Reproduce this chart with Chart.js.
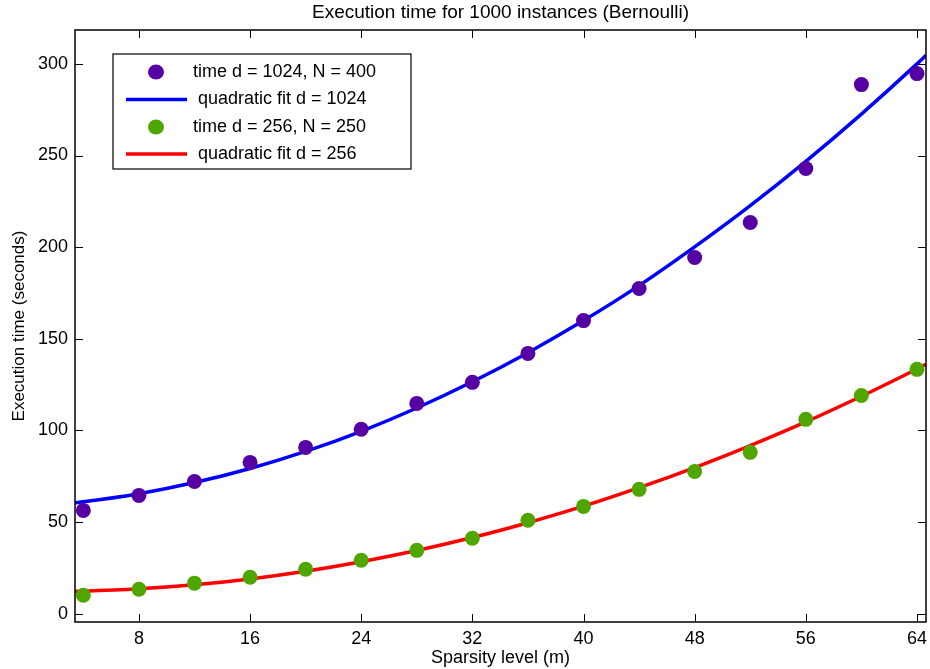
<!DOCTYPE html>
<html>
<head>
<meta charset="utf-8">
<script src="https://cdn.jsdelivr.net/npm/chart.js@4.4.1/dist/chart.umd.min.js"></script>
<style>
    html, body { margin: 0; padding: 0; background: #fff; }
    canvas { display: block; }
</style>
</head>
<body>
<canvas id="chart" width="930" height="669"></canvas>
<script>
// measured points (sparsity level m)
let m_values = [4, 8, 12, 16, 20, 24, 28, 32, 36, 40, 44, 48, 52, 56, 60, 64];
let time_1024 = [56.3, 64.5, 72.1, 82.5, 90.7, 100.6, 114.7, 126.2, 142.0, 159.9, 177.4, 194.3, 213.4, 242.9, 288.7, 294.7];
let time_256 = [10.0, 13.3, 16.6, 19.8, 24.2, 29.1, 34.5, 41.1, 50.9, 58.5, 67.8, 77.6, 88.0, 106.0, 119.0, 133.3];

// fitted curves
let fit_m = [3.4, 4, 8, 12, 16, 20, 24, 28, 32, 36, 40, 44, 48, 52, 56, 60, 64, 64.65];
let fit_1024 = [60.5, 61.0, 65.4, 71.5, 79.2, 88.5, 99.5, 112.2, 126.5, 142.4, 159.9, 179.0, 200.1, 222.6, 246.8, 272.6, 300.0, 304.7];
let fit_256 = [12.1, 12.2, 13.5, 15.7, 18.9, 23.1, 28.3, 34.4, 41.5, 49.6, 58.6, 68.7, 79.7, 91.7, 104.6, 118.6, 133.5, 136.0];

let x_ticks = [8, 16, 24, 32, 40, 48, 56, 64];
let y_ticks = [0, 50, 100, 150, 200, 250, 300];

let labels = ['time d = 1024, N = 400', 'quadratic fit d = 1024', 'time d = 256, N = 250', 'quadratic fit d = 256'];
let title_text = 'Execution time for 1000 instances (Bernoulli)';

const FONT = 'Liberation Sans, Arial, Helvetica, sans-serif';

function pts(xs, ys) {
    return xs.map((x, i) => ({ x: x, y: ys[i] }));
}

// box + inward ticks like matlab, title centred on the axes
const frame_plugin = {
    id: 'frame',
    afterDraw(chart) {
        let ctx = chart.ctx;
        let a = chart.chartArea;
        let xs = chart.scales.x, ys = chart.scales.y;
        ctx.save();
        ctx.strokeStyle = '#000';
        ctx.lineWidth = 1;
        ctx.beginPath();
        x_ticks.forEach(v => {
            let px = Math.round(xs.getPixelForValue(v)) + 0.5;
            ctx.moveTo(px, a.bottom); ctx.lineTo(px, a.bottom - 8);
            ctx.moveTo(px, a.top); ctx.lineTo(px, a.top + 8);
        });
        y_ticks.forEach(v => {
            let py = Math.round(ys.getPixelForValue(v)) + 0.5;
            ctx.moveTo(a.left, py); ctx.lineTo(a.left + 8, py);
            ctx.moveTo(a.right, py); ctx.lineTo(a.right - 8, py);
        });
        ctx.stroke();
        ctx.lineWidth = 1.5;
        ctx.strokeRect(a.left, a.top, a.right - a.left, a.bottom - a.top);

        ctx.fillStyle = '#000';
        ctx.font = '19px ' + FONT;
        ctx.textAlign = 'center';
        ctx.textBaseline = 'middle';
        ctx.fillText(title_text, (a.left + a.right) / 2, 13);
        ctx.restore();
    }
};

const legend_plugin = {
    id: 'box_legend',
    afterDraw(chart) {
        let ctx = chart.ctx;
        let bx = 113, by = 54, bw = 298, bh = 115;
        ctx.save();
        ctx.fillStyle = '#fff';
        ctx.fillRect(bx, by, bw, bh);
        ctx.strokeStyle = '#000';
        ctx.lineWidth = 1.2;
        ctx.strokeRect(bx, by, bw, bh);
        ctx.font = '18px ' + FONT;
        ctx.textBaseline = 'middle';
        ctx.fillStyle = '#000';
        let rows = [72, 99.5, 127, 154];
        chart.data.datasets.forEach((ds, i) => {
            let y = rows[i];
            if (ds.showLine) {
                ctx.strokeStyle = ds.borderColor;
                ctx.lineWidth = ds.borderWidth;
                ctx.beginPath();
                ctx.moveTo(126, y); ctx.lineTo(187, y);
                ctx.stroke();
                ctx.fillStyle = '#000';
                ctx.fillText(ds.label, 198, y);
            } else {
                ctx.fillStyle = ds.backgroundColor;
                ctx.beginPath();
                ctx.ellipse(156, y, 8, 7.5, 0, 0, Math.PI * 2);
                ctx.fill();
                ctx.fillStyle = '#000';
                ctx.fillText(ds.label, 193, y);
            }
        });
        ctx.restore();
    }
};

let chart = new Chart(document.getElementById('chart'), {
    type: 'scatter',
    data: {
        datasets: [
            {
                label: labels[0],
                data: pts(m_values, time_1024),
                backgroundColor: '#5600a3',
                borderWidth: 0,
                pointRadius: 7.5,
                order: 1,
                clip: false
            },
            {
                label: labels[1],
                data: pts(fit_m, fit_1024),
                showLine: true,
                borderColor: '#0000ff',
                borderWidth: 3.5,
                pointRadius: 0,
                cubicInterpolationMode: 'monotone',
                order: 2
            },
            {
                label: labels[2],
                data: pts(m_values, time_256),
                backgroundColor: '#4fa600',
                borderWidth: 0,
                pointRadius: 7.5,
                order: 1,
                clip: false
            },
            {
                label: labels[3],
                data: pts(fit_m, fit_256),
                showLine: true,
                borderColor: '#ff0000',
                borderWidth: 3.5,
                pointRadius: 0,
                cubicInterpolationMode: 'monotone',
                order: 2
            }
        ]
    },
    options: {
        responsive: false,
        animation: false,
        devicePixelRatio: 1,
        layout: { autoPadding: false, padding: { left: 0, right: 4, top: 30, bottom: 0 } },
        plugins: {
            legend: { display: false },
            tooltip: { enabled: false },
            title: { display: false }
        },
        scales: {
            x: {
                type: 'linear',
                min: 3.4,
                max: 64.65,
                afterBuildTicks: (axis) => { axis.ticks = x_ticks.map(v => ({ value: v })); },
                afterFit: (s) => { s.height = 47; s.paddingLeft = 0; s.paddingRight = 0; },
                grid: { display: false, drawTicks: false },
                border: { display: false },
                ticks: { color: '#000', padding: 6, font: { family: FONT, size: 18 } },
                title: {
                    display: true,
                    text: 'Sparsity level (m)',
                    color: '#000',
                    font: { family: FONT, size: 18 },
                    padding: { top: 0, bottom: 0 }
                }
            },
            y: {
                type: 'linear',
                min: -4.6,
                max: 318.5,
                afterBuildTicks: (axis) => { axis.ticks = y_ticks.map(v => ({ value: v })); },
                afterFit: (s) => { s.width = 75; s.paddingTop = 0; s.paddingBottom = 0; },
                grid: { display: false, drawTicks: false },
                border: { display: false },
                ticks: { color: '#000', padding: 7, font: { family: FONT, size: 18 } },
                title: {
                    display: true,
                    text: 'Execution time (seconds)',
                    color: '#000',
                    font: { family: FONT, size: 17 },
                    padding: { top: 9, bottom: 0 }
                }
            }
        }
    },
    plugins: [frame_plugin, legend_plugin]
});
</script>
</body>
</html>
